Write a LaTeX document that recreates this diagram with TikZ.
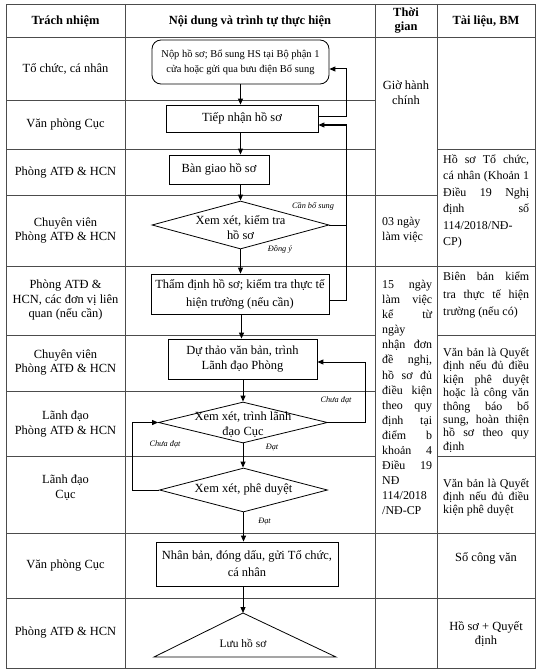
\documentclass[tikz,border=0pt]{standalone}
\usepackage{fontspec}
\setmainfont{Liberation Serif}
\usetikzlibrary{shapes.geometric,arrows.meta,calc}
\newcommand\jline[2]{\makebox[#1][s]{#2}}
\begin{document}
\begin{tikzpicture}[x=1bp,y=-1bp,
  tline/.style={draw=black!70,line width=0.7bp},
  fbox/.style={draw=black,line width=0.8bp,rectangle,inner sep=0pt,align=center,font=\fontsize{12.5}{15}\selectfont},
  ddia/.style={draw=black,line width=0.8bp,diamond,inner sep=0pt},
  arr/.style={draw=black,line width=1bp,-{Triangle[length=6bp,width=5bp]}},
  ln/.style={draw=black,line width=0.8bp},
  cell/.style={inner sep=0pt,align=center,font=\fontsize{12.5}{15}\selectfont},
  jcell/.style={inner sep=0pt,align=left,font=\fontsize{12}{15}\selectfont},
  hd/.style={inner sep=0pt,align=center,font=\bfseries\fontsize{12.5}{14}\selectfont},
  lab/.style={inner sep=0pt,font=\itshape\fontsize{8.3}{10}\selectfont},
]
\useasboundingbox (0,0) rectangle (547,672);
\fill[white] (0,0) rectangle (547,672);

% table grid
\draw[tline] (6,4) rectangle (535,668);
\foreach \x in {125,375,437} \draw[tline] (\x,4) -- (\x,668);
\draw[tline] (6,37) -- (535,37);
\draw[tline] (6,100) -- (375,100);
\draw[tline] (6,149) -- (375,149);
\draw[tline] (437,149) -- (535,149);
\draw[tline] (6,195) -- (437,195);
\draw[tline] (6,266) -- (535,266);
\draw[tline] (6,335) -- (375,335);
\draw[tline] (437,335) -- (535,335);
\draw[tline] (6,391) -- (375,391);
\draw[tline] (6,456) -- (375,456);
\draw[tline] (437,456) -- (535,456);
\draw[tline] (6,533) -- (535,533);
\draw[tline] (6,598) -- (535,598);

% header
\node[hd] (h1) at (65.5,21) {Trách nhiệm};
\node[hd] (h2) at (250,21) {Nội dung và trình tự thực hiện};
\node[hd] (h3) at (406,21) {Thời\\gian};
\node[hd] (h4) at (486,21) {Tài liệu, BM};

% column 1
\node[cell] (c1) at (65.5,69) {Tổ chức, cá nhân};
\node[cell] (c2) at (65.5,125) {Văn phòng Cục};
\node[cell] (c3) at (65.5,173) {Phòng ATĐ \& HCN};
\node[cell] (c4) at (65.5,230.5) {Chuyên viên\\Phòng ATĐ \& HCN};
\node[cell] (c5) at (65.5,300) {Phòng ATĐ \&\\HCN, các đơn vị liên\\quan (nếu cần)};
\node[cell] (c6) at (65.5,362.5) {Chuyên viên\\Phòng ATĐ \& HCN};
\node[cell] (c7) at (65.5,424) {Lãnh đạo\\Phòng ATĐ \& HCN};
\node[cell] (c8) at (65.5,487.5) {Lãnh đạo\\Cục};
\node[cell] (c9) at (65.5,566) {Văn phòng Cục};
\node[cell] (c10) at (65.5,633) {Phòng ATĐ \& HCN};

% column 3
\node[cell] (t1) at (406,93) {Giờ hành\\chính};
\node[jcell,anchor=west] (t2) at (382,230) {03 ngày\\làm việc};
\node[jcell,anchor=west,font=\fontsize{12}{15.1}\selectfont] (t3) at (382,397.5) {%
\jline{50bp}{15 ngày}\\\jline{50bp}{làm việc}\\\jline{50bp}{kể từ}\\ngày\\%
\jline{50bp}{nhận đơn}\\\jline{50bp}{đề nghị,}\\\jline{50bp}{hồ sơ đủ}\\%
\jline{50bp}{điều kiện}\\\jline{50bp}{theo quy}\\\jline{50bp}{định tại}\\%
\jline{50bp}{điểm b}\\\jline{50bp}{khoản 4}\\\jline{50bp}{Điều 19}\\NĐ\\114/2018\\/NĐ-CP};

% column 4
\node[jcell,anchor=west,font=\fontsize{12}{16.6}\selectfont] (m1) at (443,201.5) {%
\jline{86bp}{Hồ sơ Tổ chức,}\\\jline{86bp}{cá nhân (Khoản 1}\\\jline{86bp}{Điều 19 Nghị}\\%
\jline{86bp}{định số}\\114/2018/NĐ-\\CP)};
\node[jcell,anchor=west,font=\fontsize{12}{18}\selectfont] (m2) at (443,295) {%
\jline{86bp}{Biên bản kiểm}\\\jline{86bp}{tra thực tế hiện}\\trường (nếu có)};
\node[jcell,anchor=west,font=\fontsize{12}{13.5}\selectfont] (m3) at (443,400) {%
\jline{86bp}{Văn bản là Quyết}\\\jline{86bp}{định nếu đủ điều}\\\jline{86bp}{kiện phê duyệt}\\%
\jline{86bp}{hoặc là công văn}\\\jline{86bp}{thông báo bổ}\\\jline{86bp}{sung, hoàn thiện}\\%
\jline{86bp}{hồ sơ theo quy}\\định};
\node[jcell,anchor=west,font=\fontsize{12}{13.5}\selectfont] (m4) at (443,497.5) {%
\jline{86bp}{Văn bản là Quyết}\\\jline{86bp}{định nếu đủ điều}\\kiện phê duyệt};
\node[cell] (m5) at (486,558.5) {Sổ công văn};
\node[cell] (m6) at (486,634) {Hồ sơ + Quyết\\định};

% flow nodes
\node[fbox,rounded corners=9bp,minimum width=177bp,minimum height=44bp,font=\fontsize{10.5}{15}\selectfont] (nop) at (240.5,62) {Nộp hồ sơ; Bổ sung HS tại Bộ phận 1\\cửa hoặc gửi qua bưu điện Bổ sung};
\node[fbox,minimum width=152bp,minimum height=27bp] (tiep) at (242,118.5) {Tiếp nhận hồ sơ};
\node[fbox,minimum width=100bp,minimum height=29bp] (bgiao) at (219,169.5) {Bàn giao hồ sơ};
\node[ddia,minimum width=177bp,minimum height=48bp] (d1) at (240.5,225) {};
\node[cell] (d1t) at (240.5,227.5) {Xem xét, kiểm tra\\hồ sơ};
\node[fbox,minimum width=178bp,minimum height=40bp,font=\fontsize{12.5}{18}\selectfont] (thamdinh) at (240,294) {Thẩm định hồ sơ; kiểm tra thực tế\\hiện trường (nếu cần)};
\node[fbox,minimum width=149bp,minimum height=40bp] (duthao) at (242.5,359) {Dự thảo văn bản, trình\\Lãnh đạo Phòng};
\node[ddia,minimum width=169bp,minimum height=41bp] (d2) at (243,422.5) {};
\node[cell] (d2t) at (243,424.5) {Xem xét, trình lãnh\\đạo Cục};
\node[ddia,minimum width=168bp,minimum height=44bp] (d3) at (243.5,490) {};
\node[cell] (d3t) at (243.5,490) {Xem xét, phê duyệt};
\node[fbox,minimum width=182bp,minimum height=44bp,font=\fontsize{12.5}{17}\selectfont] (nhan) at (247,564) {Nhân bản, đóng dấu, gửi Tổ chức,\\cá nhân};
\coordinate (tA) at (243,613);
\coordinate (tL) at (154,657);
\coordinate (tR) at (336,657);
\draw[ln] (tA) -- (tR) -- (tL) -- cycle;
\node[cell,font=\fontsize{11.5}{14}\selectfont] (luu) at (243,643) {Lưu hồ sơ};

% main arrows
\draw[arr] (nop.south) -- (nop.south |- tiep.north);
\draw[arr] ([xshift=-1.5bp]tiep.south) -- ([xshift=-1.5bp]tiep.south |- bgiao.north);
\draw[arr] (d1.north |- bgiao.south) -- (d1.north);
\draw[arr] (d1.south) -- (d1.south |- thamdinh.north);
\draw[arr] ([xshift=1.5bp]thamdinh.south) -- ([xshift=1.5bp]thamdinh.south |- duthao.north);
\draw[arr] (d2.north |- duthao.south) -- (d2.north);
\draw[arr] (d2.south) -- (d2.south |- d3.north);
\draw[arr] (d3.south) -- (d3.south |- nhan.north);
\draw[arr] (tA |- nhan.south) -- (tA);

% loops
\coordinate (nopIn) at ($(nop.east)+(0,7)$);
\coordinate (tiepOut) at ($(tiep.east)+(0,-1.5)$);
\coordinate (tiepIn) at ($(tiep.east)+(0,6.5)$);
\coordinate (tdOut) at ($(thamdinh.east)+(0,6)$);
\coordinate (dtIn) at ($(duthao.east)+(0,3)$);
\coordinate (rx1) at (346,0);
\coordinate (rx2) at (365,0);
\coordinate (lx) at (132,0);
\draw[arr] (tiepOut) -| (rx1 |- nopIn) -- (nopIn);
\draw[ln] (d1.east) -- (d1.east -| rx1);
\draw[arr] (tdOut) -| (rx1 |- tiepIn) -- (tiepIn);
\draw[arr] (d2.east) -| (rx2 |- dtIn) -- (dtIn);
\draw[arr] (d3.west) -| (lx |- d2.west) -- (d2.west);

% labels
\node[lab] (l1) at (313,206) {Cần bổ sung};
\node[lab] (l2) at (280,249) {Đồng ý};
\node[lab] (l3) at (336,400) {Chưa đạt};
\node[lab] (l4) at (165,444) {Chưa đạt};
\node[lab] (l5) at (272,447) {Đạt};
\node[lab] (l6) at (264.5,521) {Đạt};
\end{tikzpicture}
\end{document}
